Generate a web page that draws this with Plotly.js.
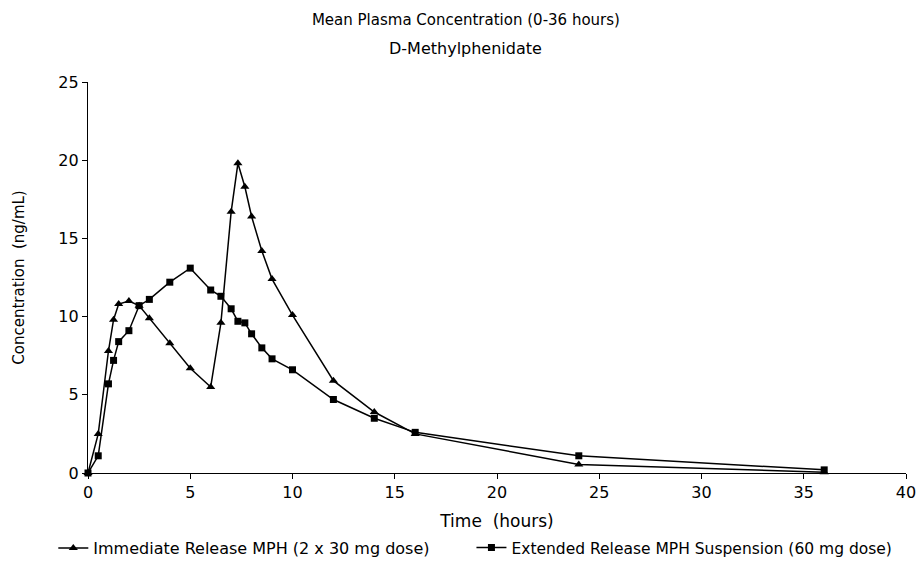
<!DOCTYPE html>
<html>
<head>
<meta charset="utf-8">
<script src="https://cdn.plot.ly/plotly-3.0.1.min.js"></script>
<style>html,body{margin:0;padding:0;background:#fff;}#chart{width:919px;height:588px;}</style>
</head>
<body>
<div id="chart"></div>
<script>
// Time points (hours)
const timeIR = [0, 0.5, 1, 1.25, 1.5, 2, 2.5, 3, 4, 5, 6, 6.5, 7, 7.33, 7.67, 8, 8.5, 9, 10, 12, 14, 16, 24, 36];
const concIR = [0, 2.5, 7.8, 9.8, 10.8, 11.0, 10.7, 9.9, 8.3, 6.7, 5.5, 9.6, 16.7, 19.8, 18.3, 16.4, 14.2, 12.4, 10.1, 5.9, 3.9, 2.5, 0.55, 0.05];

const timeER = [0, 0.5, 1, 1.25, 1.5, 2, 2.5, 3, 4, 5, 6, 6.5, 7, 7.33, 7.67, 8, 8.5, 9, 10, 12, 14, 16, 24, 36];
const concER = [0, 1.1, 5.7, 7.2, 8.4, 9.1, 10.7, 11.1, 12.2, 13.1, 11.7, 11.3, 10.5, 9.7, 9.6, 8.9, 8.0, 7.3, 6.6, 4.7, 3.5, 2.6, 1.1, 0.2];

const seriesNames = ["Immediate Release MPH (2 x 30 mg dose)", "Extended Release MPH Suspension (60 mg dose)"];
const xTicks = [0, 5, 10, 15, 20, 25, 30, 35, 40];
const yTicks = [0, 5, 10, 15, 20, 25];

const FONT = "DejaVu Sans, Liberation Sans, sans-serif";

const traces = [
  {
    x: timeIR, y: concIR, name: seriesNames[0], type: "scatter", mode: "lines+markers",
    line: {color: "#000", width: 1.5},
    marker: {symbol: "triangle-up", size: 8, color: "#000"},
    cliponaxis: false, legend: "legend"
  },
  {
    x: timeER, y: concER, name: seriesNames[1], type: "scatter", mode: "lines+markers",
    line: {color: "#000", width: 1.5},
    marker: {symbol: "square", size: 7, color: "#000"},
    cliponaxis: false, legend: "legend2"
  }
];

const legendBase = {
  orientation: "h", xanchor: "left", xref: "container",
  y: 0.068, yanchor: "middle", yref: "container",
  font: {family: FONT, size: 16, color: "#000"},
  bgcolor: "rgba(0,0,0,0)", itemwidth: 30
};

const layout = {
  width: 919, height: 588,
  paper_bgcolor: "#fff", plot_bgcolor: "#fff",
  margin: {l: 88, r: 13, t: 82, b: 115},
  font: {family: FONT, color: "#000", size: 14},
  title: {
    text: "Mean Plasma Concentration (0-36 hours)",
    font: {family: FONT, size: 15, color: "#000"},
    x: 0.507, xanchor: "center", xref: "container",
    y: 0.967, yanchor: "middle", yref: "container"
  },
  annotations: [{
    text: "D-Methylphenidate", showarrow: false,
    xref: "paper", yref: "paper", x: 0.462, y: 1.085, xanchor: "center", yanchor: "middle",
    font: {family: FONT, size: 16, color: "#000"}
  }],
  xaxis: {
    range: [0, 40], tickvals: xTicks, ticktext: xTicks.map(String),
    showline: true, linecolor: "#000", linewidth: 1.2,
    ticks: "outside", ticklen: 5, tickcolor: "#000", tickwidth: 1,
    showgrid: false, zeroline: false,
    tickfont: {family: FONT, size: 16, color: "#000"},
    title: {text: "Time  (hours)", font: {family: FONT, size: 17, color: "#000"}, standoff: 15}
  },
  yaxis: {
    range: [0, 25], tickvals: yTicks, ticktext: yTicks.map(String),
    showline: true, linecolor: "#000", linewidth: 1.2,
    ticks: "outside", ticklen: 5, tickcolor: "#000", tickwidth: 1,
    showgrid: false, zeroline: false,
    tickfont: {family: FONT, size: 16, color: "#000"},
    title: {text: "Concentration  (ng/mL)", font: {family: FONT, size: 15, color: "#000"}, standoff: 30}
  },
  showlegend: true,
  legend: Object.assign({}, legendBase, {x: 0.058}),
  legend2: Object.assign({}, legendBase, {x: 0.513, font: {family: FONT, size: 15.5, color: "#000"}})
};

Plotly.newPlot("chart", traces, layout, {displayModeBar: false, staticPlot: true});
</script>
</body>
</html>
